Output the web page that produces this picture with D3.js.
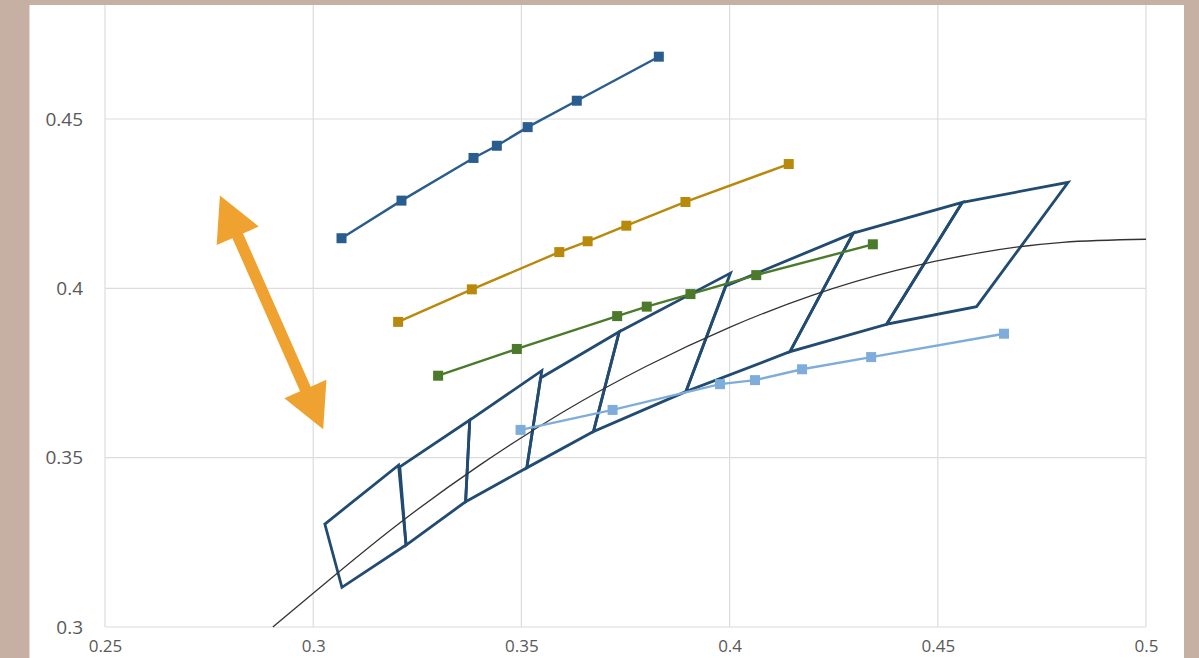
<!DOCTYPE html>
<html>
<head>
<meta charset="utf-8">
<script src="https://cdn.jsdelivr.net/npm/d3@7"></script>
<style>
  html, body { margin: 0; padding: 0; background: #c6b0a4; }
  svg { display: block; }
</style>
</head>
<body>
<svg id="chart" width="1199" height="658"></svg>
<script>
// ---- axis ticks ----
const xTicks = [0.25, 0.3, 0.35, 0.4, 0.45, 0.5];
const xTickLabels = ["0.25", "0.3", "0.35", "0.4", "0.45", "0.5"];
const yTicks = [0.3, 0.35, 0.4, 0.45];
const yTickLabels = ["0.3", "0.35", "0.4", "0.45"];

// ---- marker series ----
const darkBlueX = [0.3068, 0.3212, 0.3385, 0.3441, 0.3515, 0.3633, 0.3830];
const darkBlueY = [0.4148, 0.4259, 0.4385, 0.4421, 0.4476, 0.4554, 0.4684];

const goldX = [0.3204, 0.3381, 0.3591, 0.3659, 0.3752, 0.3894, 0.4142];
const goldY = [0.3901, 0.3997, 0.4107, 0.4139, 0.4185, 0.4255, 0.4367];

const greenX = [0.3300, 0.3489, 0.3730, 0.3801, 0.3906, 0.4064, 0.4344];
const greenY = [0.3742, 0.3821, 0.3918, 0.3946, 0.3983, 0.4039, 0.4130];

const lightBlueX = [0.3498, 0.3719, 0.3977, 0.4061, 0.4174, 0.4340, 0.4659];
const lightBlueY = [0.3582, 0.3641, 0.3717, 0.3729, 0.3761, 0.3797, 0.3866];

// ---- thin reference curve ----
const refCurveX = [0.2903, 0.30, 0.32, 0.34, 0.36, 0.38, 0.40, 0.42, 0.44, 0.46, 0.48, 0.50];
const refCurveY = [0.3000, 0.3100, 0.3300, 0.3478, 0.3635, 0.3770, 0.3885, 0.3980, 0.4053, 0.4105, 0.4136, 0.4145];

// ---- mesh of quadrilateral cells: [top-left, top-right, bottom-right, bottom-left] ----
const meshCells = [
  [[0.3028, 0.3304], [0.3205, 0.3478], [0.3223, 0.3242], [0.3069, 0.3117]],
  [[0.3208, 0.3473], [0.3376, 0.3611], [0.3366, 0.3370], [0.3223, 0.3242]],
  [[0.3376, 0.3611], [0.3549, 0.3757], [0.3513, 0.3470], [0.3366, 0.3370]],
  [[0.3546, 0.3735], [0.3735, 0.3872], [0.3673, 0.3577], [0.3513, 0.3470]],
  [[0.3735, 0.3872], [0.4002, 0.4045], [0.3895, 0.3695], [0.3673, 0.3577]],
  [[0.3991, 0.4007], [0.4297, 0.4163], [0.4145, 0.3813], [0.3895, 0.3695]],
  [[0.4297, 0.4163], [0.4559, 0.4254], [0.4377, 0.3894], [0.4145, 0.3813]],
  [[0.4559, 0.4254], [0.4813, 0.4313], [0.4593, 0.3946], [0.4377, 0.3894]]
];

// ---- double-headed arrow annotation (tip to tip) ----
const arrowStart = [0.2776, 0.4274];
const arrowEnd = [0.3024, 0.3584];

// ---- layout ----
const W = 1199, H = 658;
const panel = { x: 29.5, y: 5, w: 1154.5, h: 660 };
const plotLeft = 105, plotRight = 1146, plotBottom = 627;

const svg = d3.select("#chart");

svg.append("rect").attr("x", 0).attr("y", 0).attr("width", W).attr("height", H)
  .attr("fill", "#c6b0a4");
svg.append("rect").attr("x", panel.x).attr("y", panel.y)
  .attr("width", panel.w).attr("height", panel.h).attr("fill", "#ffffff");

svg.append("clipPath").attr("id", "panelClip")
  .append("rect").attr("x", panel.x).attr("y", panel.y)
  .attr("width", panel.w).attr("height", panel.h);

const x = d3.scaleLinear().domain([0.25, 0.5]).range([plotLeft, plotRight]);
const y = d3.scaleLinear().domain([0.3, 0.45]).range([plotBottom, 119]);

const root = svg.append("g").attr("clip-path", "url(#panelClip)");

// gridlines
const grid = root.append("g");
grid.selectAll("line.v").data(xTicks).join("line")
  .attr("x1", d => x(d)).attr("x2", d => x(d))
  .attr("y1", panel.y).attr("y2", plotBottom)
  .attr("stroke", "#dcdcdc").attr("stroke-width", 1.2);
grid.selectAll("line.h").data(yTicks).join("line")
  .attr("x1", plotLeft).attr("x2", plotRight)
  .attr("y1", d => y(d)).attr("y2", d => y(d))
  .attr("stroke", "#dcdcdc").attr("stroke-width", 1.2);

// axis tick labels
const labelFont = "'Open Sans', 'Liberation Sans', sans-serif";
const yAxis = d3.axisLeft(y).tickValues(yTicks)
  .tickFormat((d, i) => yTickLabels[i]).tickSize(0).tickPadding(22);
const yg = root.append("g").attr("transform", `translate(${plotLeft},0)`).call(yAxis);
yg.select(".domain").remove();
yg.selectAll("text").attr("fill", "#595959")
  .style("font-family", labelFont).style("font-size", "19px");

const xAxis = d3.axisBottom(x).tickValues(xTicks)
  .tickFormat((d, i) => xTickLabels[i]).tickSize(0).tickPadding(13);
const xg = svg.append("g").attr("transform", `translate(0,${plotBottom})`).call(xAxis);
xg.select(".domain").remove();
xg.selectAll("text").attr("fill", "#595959")
  .style("font-family", labelFont).style("font-size", "17px");

// mesh cells
const cellLine = d3.line().x(d => x(d[0])).y(d => y(d[1])).curve(d3.curveLinearClosed);
root.append("g").selectAll("path").data(meshCells).join("path")
  .attr("d", cellLine)
  .attr("fill", "none").attr("stroke", "#224b72").attr("stroke-width", 2.8)
  .attr("stroke-linejoin", "miter");

// thin reference curve
const refPts = refCurveX.map((v, i) => [v, refCurveY[i]]);
root.append("path").datum(refPts)
  .attr("d", d3.line().x(d => x(d[0])).y(d => y(d[1])).curve(d3.curveMonotoneX))
  .attr("fill", "none").attr("stroke", "#333333").attr("stroke-width", 1.3);

// marker series
const series = [
  { xs: darkBlueX, ys: darkBlueY, color: "#2a5d8f" },
  { xs: goldX, ys: goldY, color: "#b8890a" },
  { xs: greenX, ys: greenY, color: "#4b7a2b" },
  { xs: lightBlueX, ys: lightBlueY, color: "#7eaddb" }
];
const seriesLine = d3.line().x(d => x(d[0])).y(d => y(d[1]));
const ms = 10;
series.forEach(s => {
  const pts = s.xs.map((v, i) => [v, s.ys[i]]);
  const g = root.append("g");
  g.append("path").datum(pts).attr("d", seriesLine)
    .attr("fill", "none").attr("stroke", s.color).attr("stroke-width", 2.4);
  g.selectAll("rect").data(pts).join("rect")
    .attr("x", d => x(d[0]) - ms / 2).attr("y", d => y(d[1]) - ms / 2)
    .attr("width", ms).attr("height", ms).attr("fill", s.color);
});

// double-headed arrow
(function drawArrow() {
  const p0 = [x(arrowStart[0]), y(arrowStart[1])];
  const p1 = [x(arrowEnd[0]), y(arrowEnd[1])];
  const dx = p1[0] - p0[0], dy = p1[1] - p0[1];
  const len = Math.hypot(dx, dy);
  const ux = dx / len, uy = dy / len;
  const nx = -uy, ny = ux;
  const headLen = 44, headHalf = 23, shaftHalf = 5.8;
  const b0 = [p0[0] + ux * headLen, p0[1] + uy * headLen];
  const b1 = [p1[0] - ux * headLen, p1[1] - uy * headLen];
  const pt = (b, s) => [b[0] + nx * s, b[1] + ny * s];
  const poly = [
    p0,
    pt(b0, headHalf), pt(b0, shaftHalf),
    pt(b1, shaftHalf), pt(b1, headHalf),
    p1,
    pt(b1, -headHalf), pt(b1, -shaftHalf),
    pt(b0, -shaftHalf), pt(b0, -headHalf)
  ];
  root.append("polygon")
    .attr("points", poly.map(p => p.join(",")).join(" "))
    .attr("fill", "#efa22f");
})();
</script>
</body>
</html>
